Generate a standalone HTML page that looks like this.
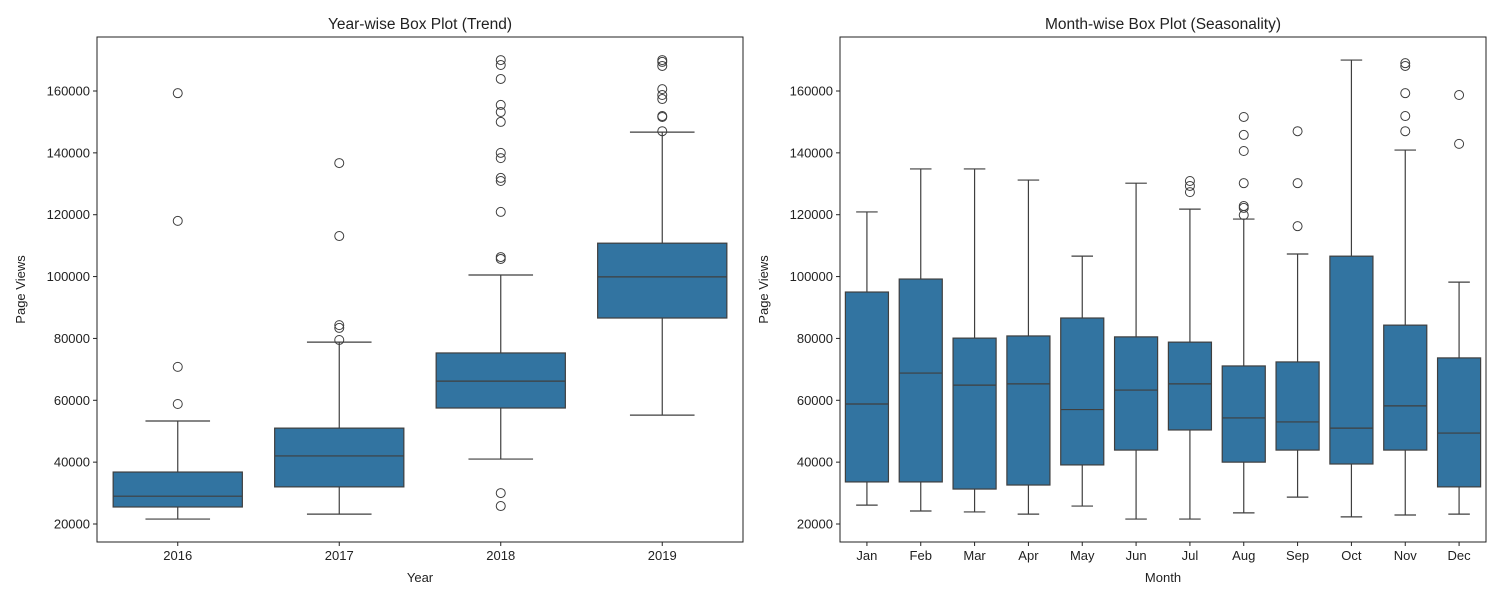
<!DOCTYPE html>
<html><head><meta charset="utf-8"><style>
body{margin:0;background:#fff;}
svg text{font-family:"Liberation Sans","DejaVu Sans",sans-serif;fill:#222;}
</style></head><body>
<svg id="chart" width="1500" height="600" xmlns="http://www.w3.org/2000/svg"></svg>
<script>
const years=["2016","2017","2018","2019"];
const yearLow=[21600,23200,41000,55200];
const yearQ1=[25500,32000,57500,86600];
const yearMed=[29000,42000,66200,99900];
const yearQ3=[36800,51000,75300,110800];
const yearHigh=[53300,78800,100500,146700];
const yearOut=[[58800,70800,118000,159300],[79500,83400,84300,113100,136700],[30000,25800,105700,106300,120900,130900,131900,138300,140000,150000,153200,155500,163900,168400,170000],[147000,151600,151900,157400,158700,160600,168100,169400,170000]];
const months=["Jan","Feb","Mar","Apr","May","Jun","Jul","Aug","Sep","Oct","Nov","Dec"];
const monLow=[26100,24200,23900,23200,25800,21600,21600,23600,28700,22300,22900,23200];
const monQ1=[33600,33600,31300,32600,39100,43900,50400,40000,43900,39400,43900,32000];
const monMed=[58800,68800,64900,65300,57000,63300,65300,54300,53000,51000,58200,49400];
const monQ3=[95000,99200,80100,80800,86600,80500,78800,71100,72400,106600,84300,73700];
const monHigh=[120900,134800,134800,131200,106600,130200,121800,118600,107300,170000,140900,98200];
const monOut=[[],[],[],[],[],[],[130900,129300,127300],[151600,145800,140600,130200,122800,122200,119900],[147000,130200,116300],[],[169000,168100,159300,151900,147000],[158700,142900]];
const yTicks=[20000,40000,60000,80000,100000,120000,140000,160000];

const svg=document.getElementById('chart');
const NS='http://www.w3.org/2000/svg';
function mk(tag,attrs,parent,text){const e=document.createElementNS(NS,tag);for(const k in attrs)e.setAttribute(k,attrs[k]);if(text!==undefined)e.textContent=text;parent.appendChild(e);return e;}
const plotTop=37,plotBot=542;
function yScale(v){return 524-(v-20000)*(433/140000);}

function panel(x0,x1,cats,low,q1,med,q3,high,outs,title,xlabel,name){
  const g=mk('g',{},svg);
  
  
  const step=(x1-x0)/cats.length, bw=step*0.8;
  cats.forEach((c,i)=>{
    const cx=x0+step*(i+0.5);
    const bg=mk('g',{},g);
    
    
    mk('line',{x1:cx,x2:cx,y1:yScale(low[i]),y2:yScale(q1[i]),stroke:'#3f3f3f','stroke-width':1.2},bg);
    mk('line',{x1:cx,x2:cx,y1:yScale(q3[i]),y2:yScale(high[i]),stroke:'#3f3f3f','stroke-width':1.2},bg);
    mk('line',{x1:cx-bw/4,x2:cx+bw/4,y1:yScale(low[i]),y2:yScale(low[i]),stroke:'#3f3f3f','stroke-width':1.2},bg);
    mk('line',{x1:cx-bw/4,x2:cx+bw/4,y1:yScale(high[i]),y2:yScale(high[i]),stroke:'#3f3f3f','stroke-width':1.2},bg);
    mk('rect',{x:cx-bw/2,y:yScale(q3[i]),width:bw,height:yScale(q1[i])-yScale(q3[i]),fill:'#3274a1',stroke:'#3f3f3f','stroke-width':1.2},bg);
    mk('line',{x1:cx-bw/2,x2:cx+bw/2,y1:yScale(med[i]),y2:yScale(med[i]),stroke:'#3f3f3f','stroke-width':1.2},bg);
    outs[i].forEach(v=>{mk('circle',{cx:cx,cy:yScale(v),r:4.5,fill:'none',stroke:'#3f3f3f','stroke-width':1},bg);});
    mk('line',{x1:cx,x2:cx,y1:plotBot,y2:plotBot+4,stroke:'#222'},g);
    const t=mk('text',{x:cx,y:plotBot+18,'text-anchor':'middle','font-size':13},g,c);
    
    
  });
  yTicks.forEach(v=>{
    mk('line',{x1:x0-4,x2:x0,y1:yScale(v),y2:yScale(v),stroke:'#222'},g);
    const t=mk('text',{x:x0-7,y:yScale(v)+4.5,'text-anchor':'end','font-size':13},g,String(v));
    
    
  });
  mk('rect',{x:x0,y:plotTop,width:x1-x0,height:plotBot-plotTop,fill:'none',stroke:'#222','stroke-width':1},g);
  const tt=mk('text',{x:(x0+x1)/2,y:29,'text-anchor':'middle','font-size':15.5},g,title);
  
  
  const xl=mk('text',{x:(x0+x1)/2,y:582,'text-anchor':'middle','font-size':13},g,xlabel);
  
  
  const yl=mk('text',{x:0,y:0,'text-anchor':'middle','font-size':13,transform:`translate(${x0-72},${(plotTop+plotBot)/2}) rotate(-90)`},g,'Page Views');
  
  
}
panel(97,743,years,yearLow,yearQ1,yearMed,yearQ3,yearHigh,yearOut,'Year-wise Box Plot (Trend)','Year','year-panel');
panel(840,1486,months,monLow,monQ1,monMed,monQ3,monHigh,monOut,'Month-wise Box Plot (Seasonality)','Month','month-panel');
</script>
</body></html>
